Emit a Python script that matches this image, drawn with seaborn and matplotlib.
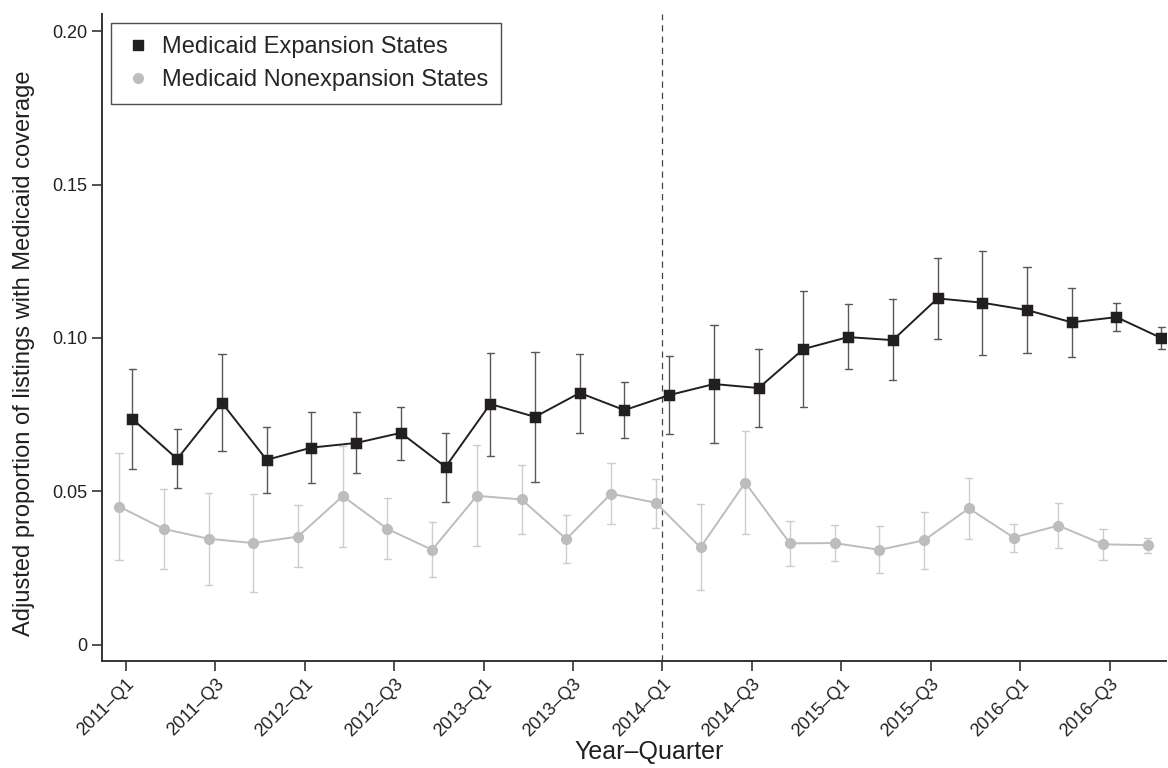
import matplotlib
matplotlib.use("Agg")
import matplotlib.pyplot as plt
from matplotlib.lines import Line2D
import pandas as pd
import seaborn as sns

quarters = [f"{y}\u2013Q{q}" for y in range(2011, 2017) for q in range(1, 5)]

exp_mean = [0.0736, 0.0606, 0.0789, 0.0603, 0.0643, 0.0658, 0.0691, 0.0580,
            0.0785, 0.0743, 0.0821, 0.0765, 0.0814, 0.0850, 0.0837, 0.0964,
            0.1003, 0.0993, 0.1129, 0.1115, 0.1091, 0.1051, 0.1068, 0.1000]
exp_lo = [0.0574, 0.0510, 0.0631, 0.0496, 0.0529, 0.0559, 0.0603, 0.0466,
          0.0617, 0.0532, 0.0691, 0.0673, 0.0687, 0.0657, 0.0709, 0.0776,
          0.0898, 0.0864, 0.0998, 0.0943, 0.0951, 0.0938, 0.1022, 0.0965]
exp_hi = [0.0898, 0.0702, 0.0949, 0.0709, 0.0758, 0.0758, 0.0776, 0.0692,
          0.0952, 0.0955, 0.0949, 0.0858, 0.0941, 0.1042, 0.0965, 0.1152,
          0.1110, 0.1126, 0.1262, 0.1285, 0.1230, 0.1164, 0.1114, 0.1037]

non_mean = [0.0451, 0.0378, 0.0346, 0.0332, 0.0353, 0.0485, 0.0378, 0.0310,
            0.0486, 0.0474, 0.0345, 0.0493, 0.0463, 0.0318, 0.0529, 0.0331,
            0.0332, 0.0310, 0.0341, 0.0445, 0.0350, 0.0389, 0.0328, 0.0325]
non_lo = [0.0276, 0.0248, 0.0197, 0.0173, 0.0253, 0.0319, 0.0279, 0.0220,
          0.0322, 0.0363, 0.0267, 0.0394, 0.0381, 0.0180, 0.0360, 0.0256,
          0.0274, 0.0235, 0.0248, 0.0346, 0.0304, 0.0316, 0.0278, 0.0300]
non_hi = [0.0627, 0.0507, 0.0494, 0.0492, 0.0455, 0.0649, 0.0478, 0.0399,
          0.0650, 0.0587, 0.0425, 0.0592, 0.0542, 0.0458, 0.0697, 0.0405,
          0.0392, 0.0386, 0.0432, 0.0543, 0.0395, 0.0463, 0.0379, 0.0349]

EXP = "Medicaid Expansion States"
NON = "Medicaid Nonexpansion States"
colors = {EXP: "#231f20", NON: "#bdbdbd"}

# three rows per point (lo, estimate, hi): median gives the estimate, min/max the CI
rows = []
for group, mean, lo, hi in [(NON, non_mean, non_lo, non_hi), (EXP, exp_mean, exp_lo, exp_hi)]:
    for q, m, l, h in zip(quarters, mean, lo, hi):
        for v in (l, m, h):
            rows.append({"quarter": q, "group": group, "value": v})
df = pd.DataFrame(rows)

sns.set_theme(style="ticks")
plt.rcParams["font.family"] = ["Liberation Sans", "DejaVu Sans"]

fig, ax = plt.subplots(figsize=(11.68, 7.68), dpi=100)
fig.subplots_adjust(left=0.087, right=0.998, bottom=0.139, top=0.982)

sns.pointplot(
    data=df, x="quarter", y="value", hue="group",
    order=quarters, hue_order=[NON, EXP],
    estimator="median", errorbar=lambda v: (v.min(), v.max()),
    dodge=0.3, markers=["o", "s"], palette=colors,
    capsize=0.16, markersize=7, linewidth=1.4,
    err_kws={"linewidth": 1.0, "alpha": 0.75},
    legend=False, ax=ax,
)

ax.axvline(quarters.index("2014\u2013Q1"), color="#444444", linestyle=(0, (5, 4)), linewidth=0.9, zorder=0)

ax.set_xlim(-0.54, 23.25)
ax.set_ylim(-0.0053, 0.2056)
ax.set_yticks([0, 0.05, 0.10, 0.15, 0.20])
ax.set_yticklabels(["0", "0.05", "0.10", "0.15", "0.20"])
ax.set_xticks(range(0, len(quarters), 2))
ax.set_xticklabels(quarters[::2], rotation=45, ha="right", rotation_mode="anchor")

ax.set_xlabel("Year\u2013Quarter", fontsize=18, color="#231f20")
ax.xaxis.set_label_coords(0.515, -0.122)
ax.set_ylabel("Adjusted proportion of listings with Medicaid coverage", fontsize=17,
              color="#231f20")
ax.yaxis.set_label_coords(-0.063, 0.475)
ax.tick_params(axis="both", direction="out", length=7, width=1.2, colors="#333333",
               labelsize=13, labelcolor="#231f20")
sns.despine(ax=ax)
for side in ("left", "bottom"):
    ax.spines[side].set_linewidth(1.4)
    ax.spines[side].set_color("#333333")

handles = [
    Line2D([], [], marker="s", linestyle="none", color=colors[EXP], markersize=7),
    Line2D([], [], marker="o", linestyle="none", color=colors[NON], markersize=7),
]
leg = ax.legend(handles, [EXP, NON], loc="upper left", bbox_to_anchor=(0, 1),
                fontsize=17, frameon=True, fancybox=False, borderaxespad=0.4,
                handletextpad=0.4, handlelength=1.2, borderpad=0.55, labelspacing=0.45)
leg.get_frame().set_edgecolor("#231f20")
leg.get_frame().set_linewidth(1.0)

fig.savefig("out.png", dpi=100)
